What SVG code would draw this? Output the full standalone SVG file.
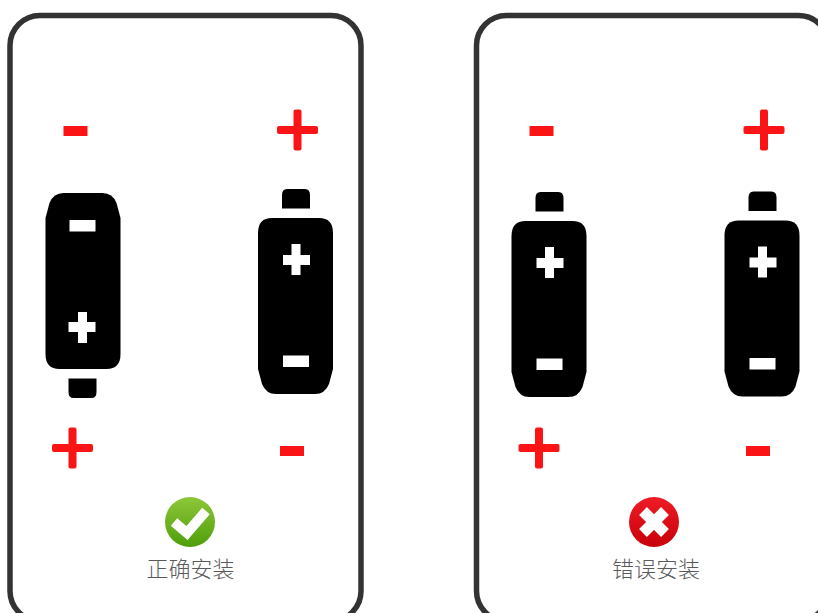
<svg xmlns="http://www.w3.org/2000/svg" width="818" height="613" viewBox="0 0 818 613">
<style>
.panel{fill:#fff;stroke:#333;stroke-width:5.500}
.red{fill:#fb1416}
.wh{fill:#fff}
.lbl{font-family:"Noto Sans CJK SC","Liberation Sans",sans-serif;font-size:22px;font-weight:300;fill:#5a5a5a;text-anchor:middle}
</style>
<defs>
<g id="bat">
<path d="M29 0H47Q52 0 52 6V19.500H24V6Q24 0 29 0Z" fill="#000"/>
<path d="M14 29H61Q75 29 75 44V180L71 195Q67 205 57 205H18Q8 205 4 195L0 180V44Q0 29 14 29Z" fill="#000"/>
<path class="wh" d="M33.500 55H42.500V66H52V76H42.500V86H33.500V76H25V66H33.500Z"/>
<rect class="wh" x="25" y="166.500" width="26" height="11.500"/>
</g>
<g id="plus"><rect class="red" x="-20.500" y="-4" width="41" height="8" rx="2"/><rect class="red" x="-4" y="-20.500" width="8" height="41" rx="2"/></g>
<rect id="minus" class="red" x="-12" y="-5" width="24" height="10"/>
<linearGradient id="g" x1="0" y1="0" x2="0" y2="1"><stop offset="0" stop-color="#8ec63a"/><stop offset="1" stop-color="#4f9e0a"/></linearGradient>
<linearGradient id="r" x1="0" y1="0" x2="0" y2="1"><stop offset="0" stop-color="#ee1c25"/><stop offset="1" stop-color="#c8000a"/></linearGradient>
</defs>
<rect width="818" height="613" fill="#fff"/>
<g id="panel-correct"><rect class="panel" x="10" y="15.500" width="351" height="605.500" rx="30"/></g>
<g id="panel-wrong"><rect class="panel" x="476.500" y="15.500" width="352" height="605.500" rx="30"/></g>
<g id="battery-1"><use href="#bat" transform="translate(120.500 398) scale(-1 -1)"/></g>
<g id="battery-2"><use href="#bat" transform="translate(258 189)"/></g>
<g id="battery-3"><use href="#bat" transform="translate(511.500 192)"/></g>
<g id="battery-4"><use href="#bat" transform="translate(724.500 191.500)"/></g>
<g id="signs-correct">
<use href="#minus" x="75.500" y="131"/>
<use href="#plus" x="297.500" y="130"/>
<use href="#plus" x="72.500" y="448"/>
<use href="#minus" x="292" y="451"/>
</g>
<g id="signs-wrong">
<use href="#minus" x="541.500" y="131"/>
<use href="#plus" x="764" y="130"/>
<use href="#plus" x="539" y="448"/>
<use href="#minus" x="758" y="451"/>
</g>
<g id="status-correct">
<circle cx="190" cy="522" r="25" fill="url(#g)"/>
<path d="M174 522L187 533L206 511" fill="none" stroke="#fff" stroke-width="10"/>
<text class="lbl" x="190.500" y="577">正确安装</text>
</g>
<g id="status-wrong">
<circle cx="654" cy="522" r="25" fill="url(#r)"/>
<path d="M643 511L665 533M665 511L643 533" fill="none" stroke="#fff" stroke-width="11"/>
<text class="lbl" x="656" y="577">错误安装</text>
</g>
</svg>
